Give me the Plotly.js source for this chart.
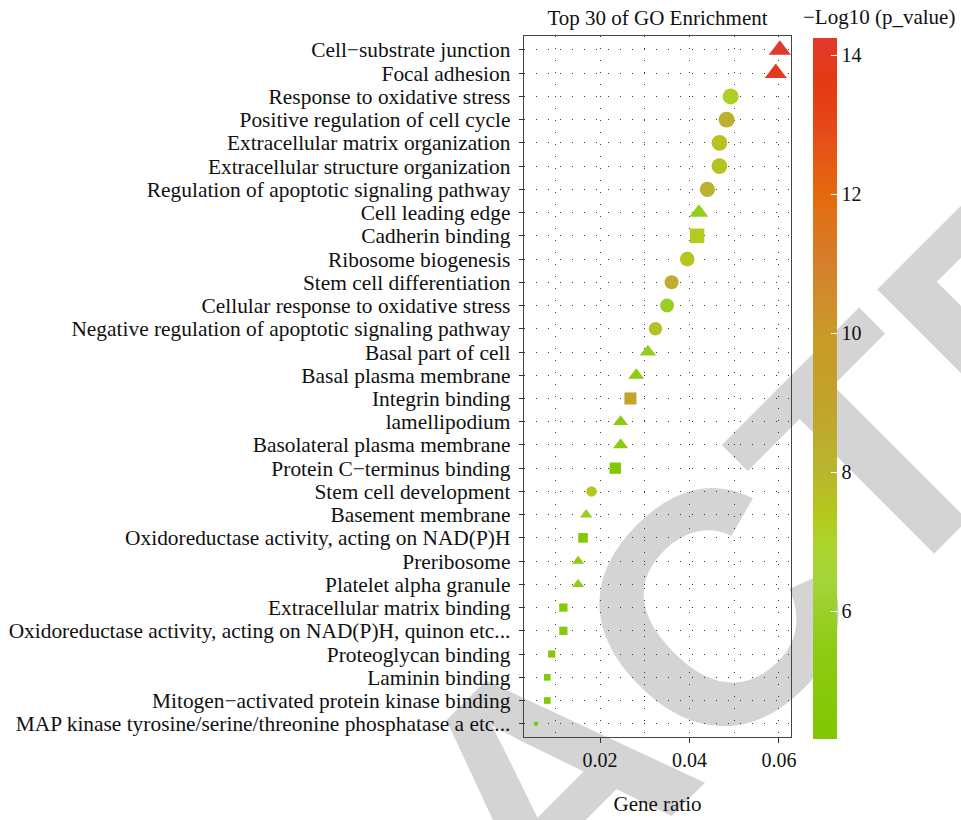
<!DOCTYPE html>
<html>
<head>
<meta charset="utf-8">
<script src="https://cdn.plot.ly/plotly-3.0.1.min.js"></script>
<style>
  html, body { margin: 0; padding: 0; background: #ffffff; }
  #chart { width: 961px; height: 820px; }
</style>
</head>
<body>
<div id="chart"></div>
<script>
// GO terms, listed from the top row of the chart to the bottom row
const terms = [
  "Cell\u2212substrate junction",
  "Focal adhesion",
  "Response to oxidative stress",
  "Positive regulation of cell cycle",
  "Extracellular matrix organization",
  "Extracellular structure organization",
  "Regulation of apoptotic signaling pathway",
  "Cell leading edge",
  "Cadherin binding",
  "Ribosome biogenesis",
  "Stem cell differentiation",
  "Cellular response to oxidative stress",
  "Negative regulation of apoptotic signaling pathway",
  "Basal part of cell",
  "Basal plasma membrane",
  "Integrin binding",
  "lamellipodium",
  "Basolateral plasma membrane",
  "Protein C\u2212terminus binding",
  "Stem cell development",
  "Basement membrane",
  "Oxidoreductase activity, acting on NAD(P)H",
  "Preribosome",
  "Platelet alpha granule",
  "Extracellular matrix binding",
  "Oxidoreductase activity, acting on NAD(P)H, quinon etc...",
  "Proteoglycan binding",
  "Laminin binding",
  "Mitogen\u2212activated protein kinase binding",
  "MAP kinase tyrosine/serine/threonine phosphatase a etc..."
];

// Gene ratio of each term
const geneRatio = [
  0.0602, 0.0593, 0.0492, 0.0483, 0.0467, 0.0467, 0.0440, 0.0421, 0.0417, 0.0395,
  0.0360, 0.0350, 0.0324, 0.0307, 0.0281, 0.0268, 0.0246, 0.0246, 0.0234, 0.0181,
  0.0169, 0.0162, 0.0151, 0.0151, 0.0118, 0.0118, 0.0092, 0.0082, 0.0082, 0.0057
];

// -log10(p value) of each term
const negLog10P = [
  14.25, 14.0, 7.1, 8.3, 7.6, 7.6, 8.2, 5.8, 7.3, 7.5,
  8.4, 5.9, 7.7, 5.7, 5.4, 9.0, 5.2, 5.2, 4.4, 7.5,
  5.9, 4.5, 5.5, 5.4, 4.7, 4.7, 4.8, 4.6, 4.5, 4.16
];

// GO ontology of each term (BP = biological process, CC = cellular component, MF = molecular function)
const ontology = [
  "CC", "CC", "BP", "BP", "BP", "BP", "BP", "CC", "MF", "BP",
  "BP", "BP", "BP", "CC", "CC", "MF", "CC", "CC", "MF", "BP",
  "CC", "MF", "CC", "CC", "MF", "MF", "MF", "MF", "MF", "MF"
];

// x axis ticks
const xTickVals = [0.02, 0.04, 0.06];
const xTickText = ["0.02", "0.04", "0.06"];
// colour bar ticks
const cbTickVals = [6, 8, 10, 12, 14];

const serif = "Liberation Serif, Times New Roman, serif";
const dotGrid = "#3a3a3a";

// marker style per ontology
const shapeOf = {
  BP: { symbol: "circle", scale: 1.0 },
  CC: { symbol: "triangle-up", scale: 1.1 },
  MF: { symbol: "square", scale: 0.97 }
};

// size scale: diameter grows with the square root of the gene ratio
const rMin = Math.min(...geneRatio);
const rMax = Math.max(...geneRatio);
function sizeScale(r) {
  return 4 + 13.5 * Math.sqrt((r - rMin) / (rMax - rMin));
}

const traces = ["BP", "CC", "MF"].map(function (ont) {
  const idx = [];
  ontology.forEach(function (o, i) { if (o === ont) idx.push(i); });
  return {
    type: "scatter",
    mode: "markers",
    name: ont,
    x: idx.map(function (i) { return geneRatio[i]; }),
    y: idx.map(function (i) { return terms[i]; }),
    marker: {
      symbol: shapeOf[ont].symbol,
      size: idx.map(function (i) { return sizeScale(geneRatio[i]) * shapeOf[ont].scale; }),
      color: idx.map(function (i) { return negLog10P[i]; }),
      coloraxis: "coloraxis",
      line: { width: 0 },
      opacity: 1
    },
    showlegend: false,
    hoverinfo: "x+y"
  };
});

const layout = {
  width: 961,
  height: 820,
  margin: { l: 524, r: 170, t: 36, b: 83, pad: 0, autoexpand: false },
  paper_bgcolor: "#ffffff",
  plot_bgcolor: "#ffffff",
  font: { family: serif, color: "#111111", size: 20 },
  title: {
    text: "Top 30 of GO Enrichment",
    font: { family: serif, size: 21, color: "#111111" },
    x: 0.5, xref: "paper", xanchor: "center",
    y: 0.979, yref: "container", yanchor: "middle"
  },
  xaxis: {
    range: [0.0030, 0.0627],
    tickvals: xTickVals,
    ticktext: xTickText,
    ticks: "outside",
    ticklen: 5,
    tickwidth: 1,
    tickcolor: "#333333",
    tickfont: { family: serif, size: 20, color: "#111111" },
    showline: true,
    mirror: true,
    linecolor: "#444444",
    linewidth: 1.3,
    showgrid: true,
    gridcolor: dotGrid,
    gridwidth: 1,
    griddash: "1px,11px",
    minor: { dtick: 0.01, tick0: 0, showgrid: true, gridcolor: dotGrid, gridwidth: 1, griddash: "1px,11px", ticks: "" },
    zeroline: false,
    automargin: false,
    title: { text: "Gene ratio", font: { family: serif, size: 21, color: "#111111" }, standoff: 26 }
  },
  yaxis: {
    type: "category",
    categoryorder: "array",
    categoryarray: terms,
    tickmode: "array",
    tickvals: terms,
    range: [29.57, -0.6],
    ticks: "outside",
    ticklen: 4,
    tickwidth: 1,
    tickcolor: "#333333",
    ticklabelstandoff: 4,
    tickfont: { family: serif, size: 21.4, color: "#111111" },
    showline: true,
    mirror: true,
    linecolor: "#444444",
    linewidth: 1.3,
    showgrid: true,
    gridcolor: dotGrid,
    gridwidth: 1,
    griddash: "1px,11px",
    zeroline: false,
    automargin: false
  },
  coloraxis: {
    colorscale: [
      [0.000, "#7fc700"],
      [0.133, "#8fcb14"],
      [0.227, "#a5d43a"],
      [0.281, "#acd32a"],
      [0.321, "#b4c81a"],
      [0.381, "#b9b62e"],
      [0.480, "#c2a22b"],
      [0.579, "#c99a28"],
      [0.678, "#d67f2c"],
      [0.777, "#e46a0c"],
      [0.876, "#e6481a"],
      [0.936, "#e33a12"],
      [1.000, "#e1392c"]
    ],
    colorbar: {
      thickness: 24,
      thicknessmode: "pixels",
      len: 701,
      lenmode: "pixels",
      x: 1.0824,
      xanchor: "left",
      xpad: 0,
      y: 0.497,
      yanchor: "middle",
      ypad: 0,
      outlinewidth: 0,
      ticks: "inside",
      ticklen: 6,
      tickwidth: 1.5,
      tickcolor: "#ffffff",
      tickvals: cbTickVals,
      tickprefix: "\u2002",
      tickfont: { family: serif, size: 20, color: "#111111" }
    }
  },
  annotations: [
    {
      // colour bar heading
      text: "\u2212Log10 (p_value)",
      xref: "paper", yref: "paper",
      x: 1.0375, y: 1.027,
      xanchor: "left", yanchor: "middle",
      showarrow: false,
      font: { family: serif, size: 21, color: "#111111" }
    }
  ],
  shapes: [
    {
      // large diagonal stamp drawn underneath the chart
      type: "rect",
      xref: "paper", yref: "paper",
      x0: -0.01, x1: 0.01, y0: -0.04, y1: -0.02,
      line: { width: 0 },
      fillcolor: "rgba(0,0,0,0)",
      layer: "below",
      label: {
        text: "RETRACTED",
        textangle: -45,
        textposition: "middle center",
        font: { family: "Liberation Sans, Arial, sans-serif", size: 330, weight: "bold", color: "#d4d4d4" }
      }
    }
  ]
};

Plotly.newPlot("chart", traces, layout, { displayModeBar: false, staticPlot: true });
</script>
</body>
</html>
